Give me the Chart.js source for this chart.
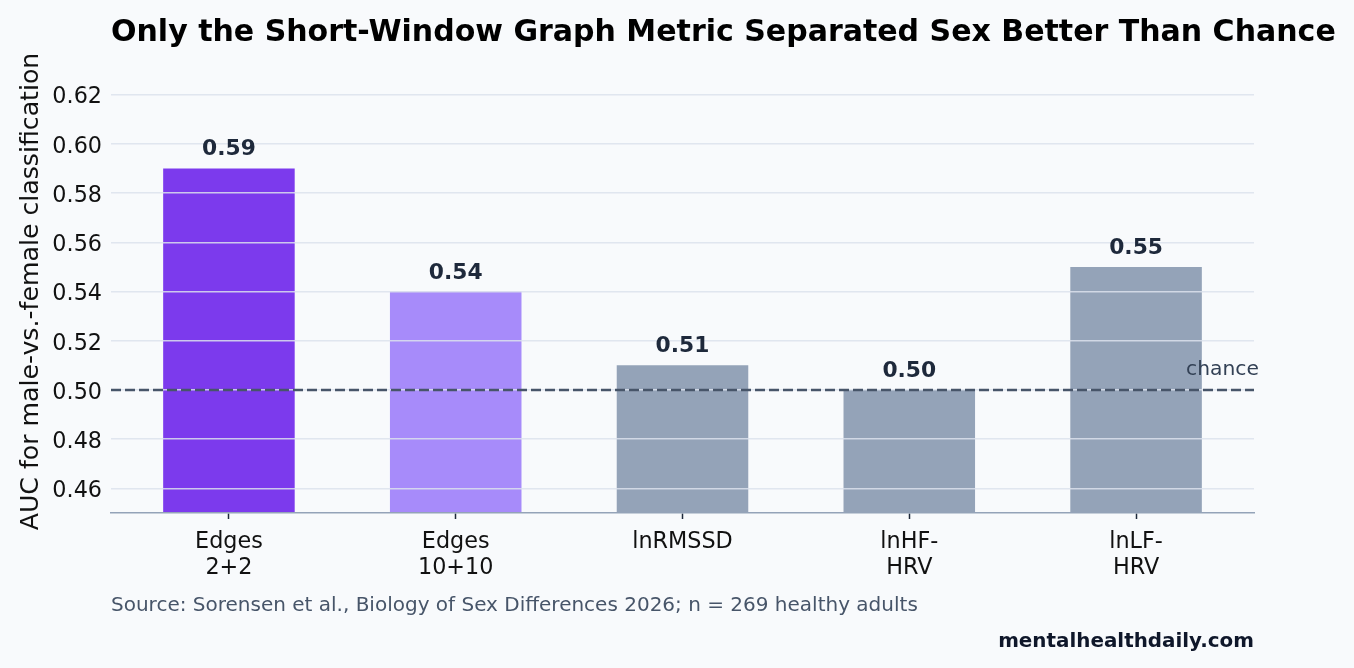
<!DOCTYPE html>
<html>
<head>
<meta charset="utf-8">
<script src="https://cdn.jsdelivr.net/npm/chart.js@4.4.1/dist/chart.umd.min.js"></script>
<style>
  html, body { margin: 0; padding: 0; background: #f8fafc; }
  #wrap { width: 1354px; height: 668px; }
</style>
</head>
<body>
<div id="wrap"><canvas id="c" width="1354" height="668"></canvas></div>
<script>
// ---- data ----
const categories = ['Edges\n2+2', 'Edges\n10+10', 'lnRMSSD', 'lnHF-\nHRV', 'lnLF-\nHRV'];
const aucValues = [0.59, 0.54, 0.51, 0.50, 0.55];
const yTickValues = [0.46, 0.48, 0.50, 0.52, 0.54, 0.56, 0.58, 0.60, 0.62];
const chanceLevel = 0.50;
const titleText = 'Only the Short-Window Graph Metric Separated Sex Better Than Chance';
const yAxisTitle = 'AUC for male-vs.-female classification';
const sourceText = 'Source: Sorensen et al., Biology of Sex Differences 2026; n = 269 healthy adults';
const brandText = 'mentalhealthdaily.com';

// ---- styles ----
const barColors = ['#7c3aed', '#a78bfa', '#94a3b8', '#94a3b8', '#94a3b8'];
const FONT = '"DejaVu Sans", "Liberation Sans", sans-serif';

const decorPlugin = {
  id: 'decor',
  beforeDraw(chart) {
    const ctx = chart.ctx;
    ctx.save();
    ctx.fillStyle = '#f8fafc';
    ctx.fillRect(0, 0, chart.width, chart.height);
    ctx.restore();
  },
  afterDraw(chart) {
    const ctx = chart.ctx;
    const area = chart.chartArea;
    const y = chart.scales.y;
    const x = chart.scales.x;
    ctx.save();
    // chance line
    const cy = y.getPixelForValue(chanceLevel);
    ctx.strokeStyle = '#475569';
    ctx.lineWidth = 2.5;
    ctx.setLineDash([10, 4]);
    ctx.beginPath();
    ctx.moveTo(area.left, cy);
    ctx.lineTo(area.right, cy);
    ctx.stroke();
    ctx.setLineDash([]);
    ctx.fillStyle = '#334155';
    ctx.font = '20.3px ' + FONT;
    ctx.textAlign = 'right';
    ctx.textBaseline = 'alphabetic';
    ctx.fillText('chance', area.right + 5, cy - 15);

    // value labels
    ctx.fillStyle = '#1e293b';
    ctx.font = 'bold 21.8px ' + FONT;
    ctx.textAlign = 'center';
    aucValues.forEach((v, i) => {
      const px = x.getPixelForValue(i);
      const py = y.getPixelForValue(v);
      ctx.fillText(v.toFixed(2), px, py - 13);
    });

    // title
    ctx.fillStyle = '#000000';
    ctx.font = 'bold 30px ' + FONT;
    ctx.textAlign = 'left';
    ctx.fillText(titleText, area.left, 41);

    // y-axis title
    ctx.save();
    ctx.translate(38, (area.top + area.bottom) / 2);
    ctx.rotate(-Math.PI / 2);
    ctx.textAlign = 'center';
    ctx.font = '25.2px ' + FONT;
    ctx.fillStyle = '#111111';
    ctx.fillText(yAxisTitle, 0, 0);
    ctx.restore();

    // source
    ctx.fillStyle = '#475569';
    ctx.font = '20px ' + FONT;
    ctx.textAlign = 'left';
    ctx.fillText(sourceText, area.left, 611);

    // brand
    ctx.fillStyle = '#0f172a';
    ctx.font = 'bold 19.9px ' + FONT;
    ctx.textAlign = 'right';
    ctx.fillText(brandText, area.right, 647);
    ctx.restore();
  }
};

new Chart(document.getElementById('c'), {
  type: 'bar',
  data: {
    datasets: [{
      data: aucValues.map((v, i) => ({ x: i, y: v })),
      backgroundColor: barColors,
      borderWidth: 0,
      barPercentage: 0.58,
      categoryPercentage: 1.0
    }]
  },
  options: {
    responsive: false,
    animation: false,
    devicePixelRatio: 1,
    layout: { padding: { top: 70, right: 100, left: 0, bottom: 0 } },
    plugins: { legend: { display: false }, tooltip: { enabled: false }, title: { display: false } },
    scales: {
      x: {
        type: 'linear',
        min: -0.52,
        max: 4.52,
        offset: false,
        afterBuildTicks(scale) { scale.ticks = categories.map((_, i) => ({ value: i })); },
        afterFit(scale) { scale.height = 155; },
        grid: { display: true, z: 1, offset: false, drawOnChartArea: false, drawTicks: true, tickLength: 6, tickColor: '#1e293b', tickWidth: 1.5 },
        border: { display: true, z: 1, color: '#94a3b8', width: 1.5 },
        ticks: {
          autoSkip: false,
          maxRotation: 0,
          padding: 11,
          color: '#111111',
          font: { family: FONT, size: 22.3, lineHeight: 1.13 },
          callback: (v) => (Number.isInteger(v) && categories[v] !== undefined) ? categories[v].split('\n') : ''
        }
      },
      y: {
        min: 0.45,
        max: 0.63,
        afterBuildTicks(scale) { scale.ticks = yTickValues.map(v => ({ value: v })); },
        afterFit(scale) { scale.width = 111; },
        grid: { z: 1, color: 'rgba(220,226,236,0.85)', lineWidth: 1.5, drawTicks: false },
        border: { display: false },
        ticks: {
          padding: 9,
          labelOffset: 3,
          color: '#111111',
          font: { family: FONT, size: 22.3 },
          callback: (v) => v.toFixed(2)
        }
      }
    }
  },
  plugins: [decorPlugin]
});
</script>
</body>
</html>
